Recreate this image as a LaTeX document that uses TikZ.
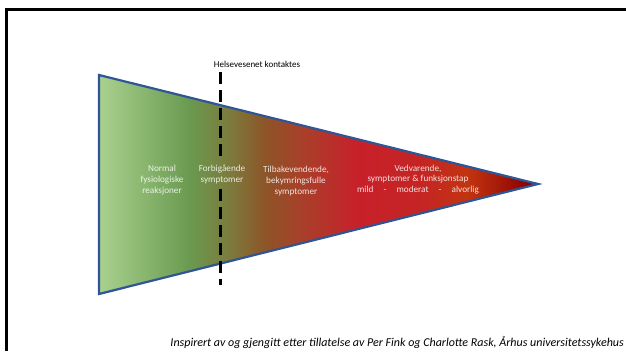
\documentclass[tikz,border=0pt]{standalone}
\usepackage{fontspec}
\setmainfont{Carlito}
\definecolor{cg1}{HTML}{A9D18E}
\definecolor{cg2}{HTML}{6A9A50}
\definecolor{colive}{HTML}{7C7A3C}
\definecolor{cbrown}{HTML}{8E5428}
\definecolor{crb}{HTML}{A8402A}
\definecolor{cred}{HTML}{C8202A}
\definecolor{cred2}{HTML}{C42524}
\definecolor{cor}{HTML}{C23410}
\definecolor{cdred}{HTML}{8B0000}
\definecolor{funnelblue}{HTML}{2F5597}
\pgfdeclarehorizontalshading{funnel}{100bp}{color(0bp)=(cg1); color(25bp)=(cg1); color(35.3bp)=(cg2); color(39.9bp)=(colive); color(44bp)=(cbrown); color(48bp)=(crb); color(54.6bp)=(cred); color(61.6bp)=(cred2); color(67bp)=(cor); color(74bp)=(cdred); color(75bp)=(cdred); color(100bp)=(cdred)}
\begin{document}
\begin{tikzpicture}[x=1pt,y=-1pt,
  innerlbl/.style={text=white, text opacity=0.85, font=\fontsize{9.2}{10.6}\selectfont, align=center, inner sep=0pt},
  framelines/.style={line width=2.5pt},
  dashline/.style={line width=3pt, dash pattern=on 12pt off 6pt}]
\useasboundingbox (0,0) rectangle (626,351);
\draw[framelines] (6.5,351) -- (6.5,9.5) -- (626,9.5);
\coordinate (tl) at (99,75);
\coordinate (bl) at (99,294);
\coordinate (tip) at (538,184);
\shade[shading=funnel, draw=funnelblue, line width=2.2pt, line join=miter] (tl) -- (tip) -- (bl) -- cycle;
\coordinate (dtop) at (220,72);
\coordinate (dbot) at (220,285);
\node[font=\fontsize{9}{11}\selectfont, inner sep=0pt] (hk) at (257,64.5) {Helsevesenet kontaktes};
\node[innerlbl] (n1) at (162,180) {Normal\\fysiologiske\\reaksjoner};
\node[innerlbl] (n2) at (222,174.5) {Forbigående\\symptomer};
\node[innerlbl] (n3) at (296,181) {Tilbakevendende,\\bekymringsfulle\\symptomer};
\node[innerlbl] (n4) at (418,179.5) {Vedvarende,\\symptomer \& funksjonstap\\mild\hspace{1.1em}-\hspace{1.1em}moderat\hspace{1.1em}-\hspace{1.1em}alvorlig};
\draw[dashline] (dtop) -- ([yshift=4pt]n2.north -| dtop);
\draw[dashline] ([yshift=-5pt]n2.south -| dtop) -- (dbot);
\node[font=\fontsize{12}{14}\selectfont\itshape, anchor=east, inner sep=0pt] (src) at (624,342) {Inspirert av og gjengitt etter tillatelse av Per Fink og Charlotte Rask, Århus universitetssykehus};
\end{tikzpicture}
\end{document}
